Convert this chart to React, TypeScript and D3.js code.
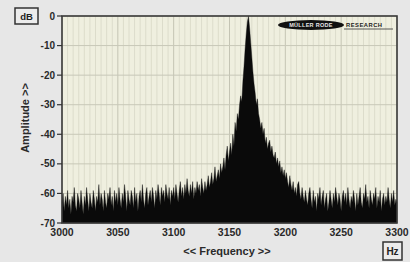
import React from "react";
import * as d3 from "d3";

const startFreq = 3000;
const stepHz = 1;
const amplitudes: number[] = [
  -63, -60, -66, -61, -64, -59, -65, -62, -67, -61,
  -63, -58, -64, -66, -60, -62, -65, -59, -63, -67,
  -61, -64, -58, -62, -66, -60, -63, -65, -59, -62,
  -66, -61, -63, -57, -64, -60, -62, -66, -59, -63,
  -65, -60, -62, -58, -64, -61, -66, -59, -63, -60,
  -64, -58, -62, -65, -60, -63, -57, -61, -66, -59,
  -62, -64, -59, -61, -65, -58, -63, -60, -66, -61,
  -59, -63, -57, -62, -65, -60, -58, -64, -61, -59,
  -63, -58, -61, -65, -59, -62, -57, -60, -64, -58,
  -61, -59, -63, -57, -60, -62, -58, -64, -59, -61,
  -58, -62, -57, -60, -63, -59, -56, -61, -58, -62,
  -57, -60, -55, -59, -61, -57, -60, -56, -62, -58,
  -60, -56, -59, -57, -61, -55, -58, -60, -56, -59,
  -57, -54, -58, -56, -53, -57, -55, -51, -56, -54,
  -52, -55, -50, -53, -51, -48, -52, -47, -44, -49,
  -46, -43, -47, -40, -44, -36, -39, -33, -35, -30,
  -27, -29, -22, -17, -11, -6, -2, 0, -4, -9,
  -14, -19, -23, -26, -30, -28, -33, -35, -38, -36,
  -40, -38, -43, -41, -45, -43, -42, -46, -44, -47,
  -48, -46, -50, -48, -51, -49, -53, -51, -54, -52,
  -55, -53, -56, -58, -54, -57, -59, -56, -60, -58,
  -61, -57, -56, -60, -62, -58, -61, -63, -59, -62,
  -64, -60, -58, -62, -65, -59, -63, -61, -66, -60,
  -62, -58, -64, -61, -59, -65, -62, -60, -66, -63,
  -59, -62, -65, -60, -63, -58, -61, -64, -60, -62,
  -66, -61, -59, -63, -60, -64, -58, -62, -65, -61,
  -63, -59, -62, -66, -60, -64, -61, -58, -63, -65,
  -60, -62, -57, -63, -61, -65, -59, -62, -64, -60,
  -62, -58, -65, -61, -63, -59, -66, -62, -60, -64,
  -61, -63, -58, -62, -65, -60, -63, -59, -64, -62,
  -63,
];

const xTicks = [3000, 3050, 3100, 3150, 3200, 3250, 3300];
const yTicks = [0, -10, -20, -30, -40, -50, -60, -70];
const xDomain = [3000, 3300];
const yDomain = [-70, 0];

export default function App() {
  const W = 410, H = 262;
  const left = 62, right = 397, top = 16, bottom = 223;
  const x = d3.scaleLinear().domain(xDomain).range([left, right]);
  const y = d3.scaleLinear().domain(yDomain).range([bottom, top]);
  const pts = amplitudes.map((a, i) => ({ f: startFreq + i * stepHz, a }));
  const area = d3
    .area<{ f: number; a: number }>()
    .x((d) => x(d.f))
    .y0(y(-70))
    .y1((d) => y(d.a));
  const minor = d3.range(3005, 3300, 5).filter((f) => f % 50 !== 0);
  const font = "'Liberation Sans', Arial, sans-serif";
  return (
    <svg
      width={W}
      height={H}
      style={{ position: "absolute", left: 0, top: 0, background: "#e7e7e7" }}
    >
      <rect x={0} y={0} width={W} height={H} fill="#e7e7e7" />
      <rect x={left} y={top} width={right - left} height={bottom - top} fill="#efefdf" />
      {minor.map((f) => (
        <line key={"m" + f} x1={x(f)} x2={x(f)} y1={top} y2={bottom} stroke="#dcdccb" strokeWidth={1} />
      ))}
      {xTicks.map((f) => (
        <line key={"M" + f} x1={x(f)} x2={x(f)} y1={top} y2={bottom} stroke="#c4c4b4" strokeWidth={1} />
      ))}
      {yTicks.map((v) => (
        <line key={"h" + v} x1={left} x2={right} y1={y(v)} y2={y(v)} stroke="#c8c8b8" strokeWidth={1} />
      ))}
      <path d={area(pts) || ""} fill="#0a0a0a" stroke="#0a0a0a" strokeWidth={0.4} />
      {/* logo */}
      <ellipse cx={311} cy={25} rx={33} ry={5} fill="#111" />
      <text x={311} y={27.2} textAnchor="middle" fontFamily={font} fontWeight="bold" fontSize={5.5} fill="#e8e8e8" letterSpacing={0.3}>
        MÜLLER RODE
      </text>
      <text x={346} y={27.2} fontFamily={font} fontWeight="bold" fontSize={5.8} fill="#222" letterSpacing={0.5}>
        RESEARCH
      </text>
      <line x1={344} x2={393} y1={29} y2={29} stroke="#333" strokeWidth={0.8} />
      <rect x={left} y={top} width={right - left} height={bottom - top} fill="none" stroke="#3a3a3a" strokeWidth={1.6} />
      {yTicks.map((v) => (
        <g key={"yt" + v}>
          <line x1={57} x2={left} y1={y(v)} y2={y(v)} stroke="#333" strokeWidth={1.2} />
          <text x={55} y={y(v) + 3.5} textAnchor="end" fontFamily={font} fontWeight="bold" fontSize={10} fill="#2a2a2a">
            {v}
          </text>
        </g>
      ))}
      {xTicks.map((f) => (
        <text key={"xt" + f} x={x(f)} y={236} textAnchor="middle" fontFamily={font} fontWeight="bold" fontSize={10.5} fill="#2a2a2a">
          {f}
        </text>
      ))}
      <text x={227} y={254.5} textAnchor="middle" fontFamily={font} fontWeight="bold" fontSize={11} fill="#2a2a2a">
        {"<< Frequency >>"}
      </text>
      <text
        transform="translate(29,118) rotate(-90)"
        textAnchor="middle"
        fontFamily={font}
        fontWeight="bold"
        fontSize={11}
        fill="#2a2a2a"
      >
        {"Amplitude >>"}
      </text>
      <rect x={15} y={8} width={23} height={16} fill="#ececec" stroke="#333" strokeWidth={1.5} />
      <text x={26.5} y={19.5} textAnchor="middle" fontFamily={font} fontWeight="bold" fontSize={9.5} fill="#222">
        dB
      </text>
      <rect x={383} y={242} width={19} height={18} fill="#ececec" stroke="#333" strokeWidth={1.5} />
      <text x={392.5} y={255} textAnchor="middle" fontFamily={font} fontWeight="bold" fontSize={10} fill="#222">
        Hz
      </text>
    </svg>
  );
}
